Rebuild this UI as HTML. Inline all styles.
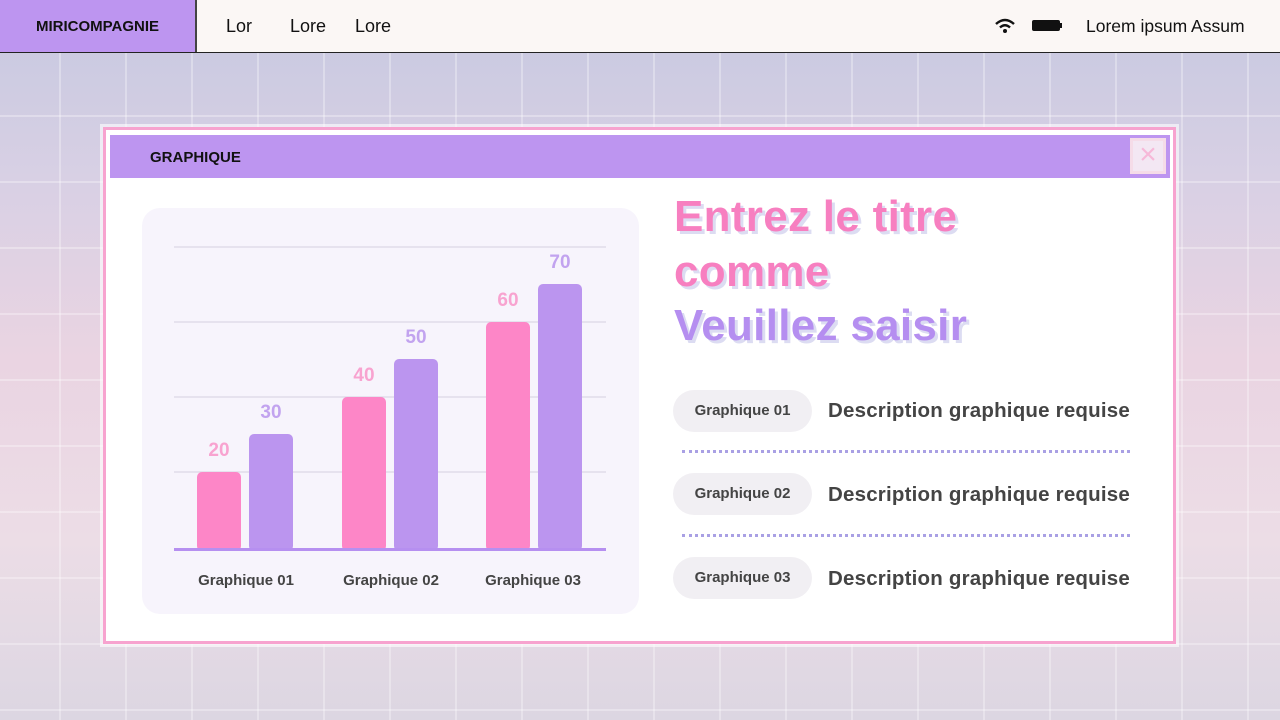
<!DOCTYPE html>
<html><head><meta charset="utf-8"><style>
*{margin:0;padding:0;box-sizing:border-box}
body{width:1280px;height:720px;overflow:hidden;position:relative;font-family:"Liberation Sans",sans-serif;
background:linear-gradient(180deg,#c6c8e0 0%,#d8d0e4 25%,#ead4e2 50%,#ecdde6 75%,#dcd6e2 100%);}
.grid{position:absolute;left:0;top:52px;width:1280px;height:668px;
background-image:linear-gradient(90deg,rgba(255,255,255,.3) 2px,transparent 2px),linear-gradient(0deg,rgba(255,255,255,.3) 2px,transparent 2px);
background-size:66px 66px;background-position:59px 0,0 -1px;}
.top{position:absolute;left:0;top:0;width:1280px;height:53px;background:#fbf7f5;border-bottom:1.5px solid #222}
.brand{position:absolute;left:0;top:0;width:197px;height:52px;background:#bd95f0;border-right:2px solid #444;font-weight:bold;font-size:15px;line-height:54px;text-align:center;color:#111}
.nav{position:absolute;top:16px;font-size:18px;color:#111}
.win{position:absolute;left:103px;top:127px;width:1073px;height:517px;border:3px solid #f7a3cf;background:#fff;box-shadow:0 0 0 3px rgba(255,255,255,.6)}
.hdr{position:absolute;left:4px;top:5px;width:1060px;height:43px;background:#bd95f0}
.hdr span{position:absolute;left:40px;top:14px;font-weight:bold;font-size:15px;color:#111}
.x{position:absolute;right:4px;top:3px;width:36px;height:36px;border:3px solid #f5dce8;background:#f3e7f3;color:#f6b8d8;font-size:30px;line-height:28px;text-align:center}
.card{position:absolute;left:142px;top:208px;width:497px;height:406px;background:#f7f4fc;border-radius:18px}
.t{position:absolute;left:674px;font-weight:bold;font-size:44px;letter-spacing:0.3px;text-shadow:3px 3px 0 #dcdcf2}
.pill{position:absolute;left:673px;width:139px;height:42px;border-radius:21px;background:#f1eff3;font-size:15px;font-weight:bold;color:#444;text-align:center;line-height:42px}
.d{position:absolute;left:828px;font-size:20.5px;letter-spacing:0.2px;font-weight:bold;color:#444}
.dot{position:absolute;left:682px;width:448px;border-top:3px dotted #a9a0e4}
</style></head><body>
<div class="grid"></div>
<div class="top"><div class="brand">MIRICOMPAGNIE</div>
<div class="nav" style="left:226px">Lor</div><div class="nav" style="left:290px">Lore</div><div class="nav" style="left:355px">Lore</div>
<svg style="position:absolute;left:994px;top:17px" width="22" height="18" viewBox="0 0 22 18"><path d="M2 7 Q11 -1 20 7" stroke="#111" stroke-width="2.5" fill="none"/><path d="M6 10.5 Q11 6 16 10.5" stroke="#111" stroke-width="2.5" fill="none"/><circle cx="11" cy="14" r="2" fill="#111"/></svg>
<div style="position:absolute;left:1032px;top:20px;width:28px;height:11px;background:#111;border-radius:2px"></div><div style="position:absolute;left:1060px;top:23px;width:2px;height:5px;background:#111"></div>
<div class="nav" style="left:1086px;font-size:17.5px">Lorem ipsum Assum</div>
</div>
<div class="win"><div class="hdr"><span>GRAPHIQUE</span><div class="x">×</div></div></div>
<div class="card"></div>
<svg style="position:absolute;left:0;top:0" width="1280" height="720">
<g stroke="#dcd8e6" stroke-width="1.2"><line x1="174" y1="247" x2="606" y2="247"/><line x1="174" y1="322" x2="606" y2="322"/><line x1="174" y1="397" x2="606" y2="397"/><line x1="174" y1="472" x2="606" y2="472"/></g>
<g fill="#fd86c7"><rect x="197" y="472" width="44" height="79" rx="5"/><rect x="342" y="397" width="44" height="154" rx="5"/><rect x="486" y="322" width="44" height="229" rx="5"/></g>
<g fill="#bb95ef"><rect x="249" y="434" width="44" height="117" rx="5"/><rect x="394" y="359" width="44" height="192" rx="5"/><rect x="538" y="284" width="44" height="267" rx="5"/></g>
<line x1="174" y1="549.5" x2="606" y2="549.5" stroke="#b68ff0" stroke-width="3"/>
<g font-family="Liberation Sans" font-weight="bold" font-size="19" text-anchor="middle">
<text x="219" y="456" fill="#f8a3d0">20</text><text x="271" y="418" fill="#c2a3ef">30</text>
<text x="364" y="381" fill="#f8a3d0">40</text><text x="416" y="343" fill="#c2a3ef">50</text>
<text x="508" y="306" fill="#f8a3d0">60</text><text x="560" y="268" fill="#c2a3ef">70</text></g>
<g font-family="Liberation Sans" font-weight="bold" font-size="15" fill="#444" text-anchor="middle">
<text x="246" y="585">Graphique 01</text><text x="391" y="585">Graphique 02</text><text x="533" y="585">Graphique 03</text></g>
</svg>
<div class="t" style="top:192px;color:#f77fc0">Entrez le titre</div>
<div class="t" style="top:247px;color:#f77fc0">comme</div>
<div class="t" style="top:301px;color:#b58ef0">Veuillez saisir</div>
<div class="pill" style="top:390px">Graphique 01</div><div class="d" style="top:399px">Description graphique requise</div>
<div class="dot" style="top:450px"></div>
<div class="pill" style="top:473px">Graphique 02</div><div class="d" style="top:483px">Description graphique requise</div>
<div class="dot" style="top:534px"></div>
<div class="pill" style="top:557px">Graphique 03</div><div class="d" style="top:567px">Description graphique requise</div>
</body></html>
